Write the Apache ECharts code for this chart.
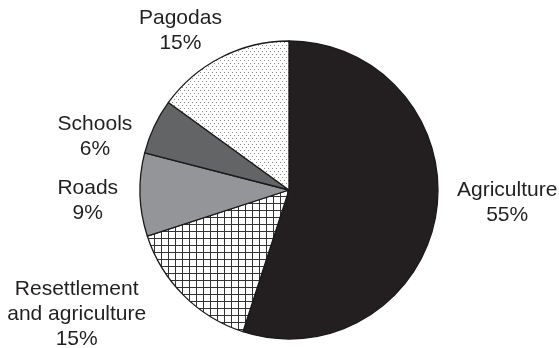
<!DOCTYPE html>
<html>
<head>
<meta charset="utf-8">
<script src="https://cdn.jsdelivr.net/npm/echarts@6/dist/echarts.min.js"></script>
<style>
html,body{margin:0;padding:0;background:#fff;}
#c{width:559px;height:348px;}
</style>
</head>
<body>
<div id="c"></div>
<script>
const categories = ["Agriculture", "Resettlement\nand agriculture", "Roads", "Schools", "Pagodas"];
const values = [55, 15, 9, 6, 15];
const fills = ["solid:#231f20", "cross", "solid:#939598", "solid:#636466", "dots"];
// label nudges (style only), in px
const labelNudgeX = [0, -20, -1, -2, 15];
const labelNudgeY = [-12, 10, 6, 15, -16];

function crossPattern() {
  const c = document.createElement('canvas');
  c.width = 7; c.height = 7;
  const g = c.getContext('2d');
  g.fillStyle = '#fff'; g.fillRect(0, 0, 7, 7);
  g.fillStyle = '#333';
  g.fillRect(0, 0, 7, 1);
  g.fillRect(0, 0, 1, 7);
  return c;
}
function dotPattern() {
  const c = document.createElement('canvas');
  c.width = 4; c.height = 6;
  const g = c.getContext('2d');
  g.fillStyle = '#fff'; g.fillRect(0, 0, 4, 6);
  g.fillStyle = '#8a8a8a';
  g.fillRect(0, 0, 1, 1);
  g.fillRect(2, 3, 1, 1);
  return c;
}
function fillFor(f) {
  if (f.startsWith('solid:')) return f.slice(6);
  if (f === 'cross') return { image: crossPattern(), repeat: 'repeat' };
  return { image: dotPattern(), repeat: 'repeat' };
}

const data = categories.map((n, i) => ({
  name: n,
  value: values[i],
  itemStyle: { color: fillFor(fills[i]) }
}));

const chart = echarts.init(document.getElementById('c'), null, { renderer: 'canvas' });
chart.setOption({
  backgroundColor: '#fff',
  animation: false,
  series: [{
    type: 'pie',
    center: [289, 190],
    radius: [0, 149],
    startAngle: 90,
    clockwise: true,
    avoidLabelOverlap: false,
    data: data,
    itemStyle: { borderColor: '#1a1a1a', borderWidth: 1.3 },
    label: {
      show: true,
      position: 'outside',
      formatter: p => p.name + '\n' + Math.round(p.percent) + '%',
      fontFamily: 'Liberation Sans, Arial, sans-serif',
      fontSize: 21,
      lineHeight: 25,
      color: '#231f20'
    },
    labelLine: { show: false, length: 12, length2: 4 },
    labelLayout: function (params) {
      const r = params.labelRect;
      const i = params.dataIndex;
      return {
        x: r.x + r.width / 2 + labelNudgeX[i],
        y: r.y + r.height / 2 + labelNudgeY[i],
        align: 'center',
        verticalAlign: 'middle'
      };
    },
    emphasis: { disabled: true }
  }]
});
</script>
</body>
</html>
